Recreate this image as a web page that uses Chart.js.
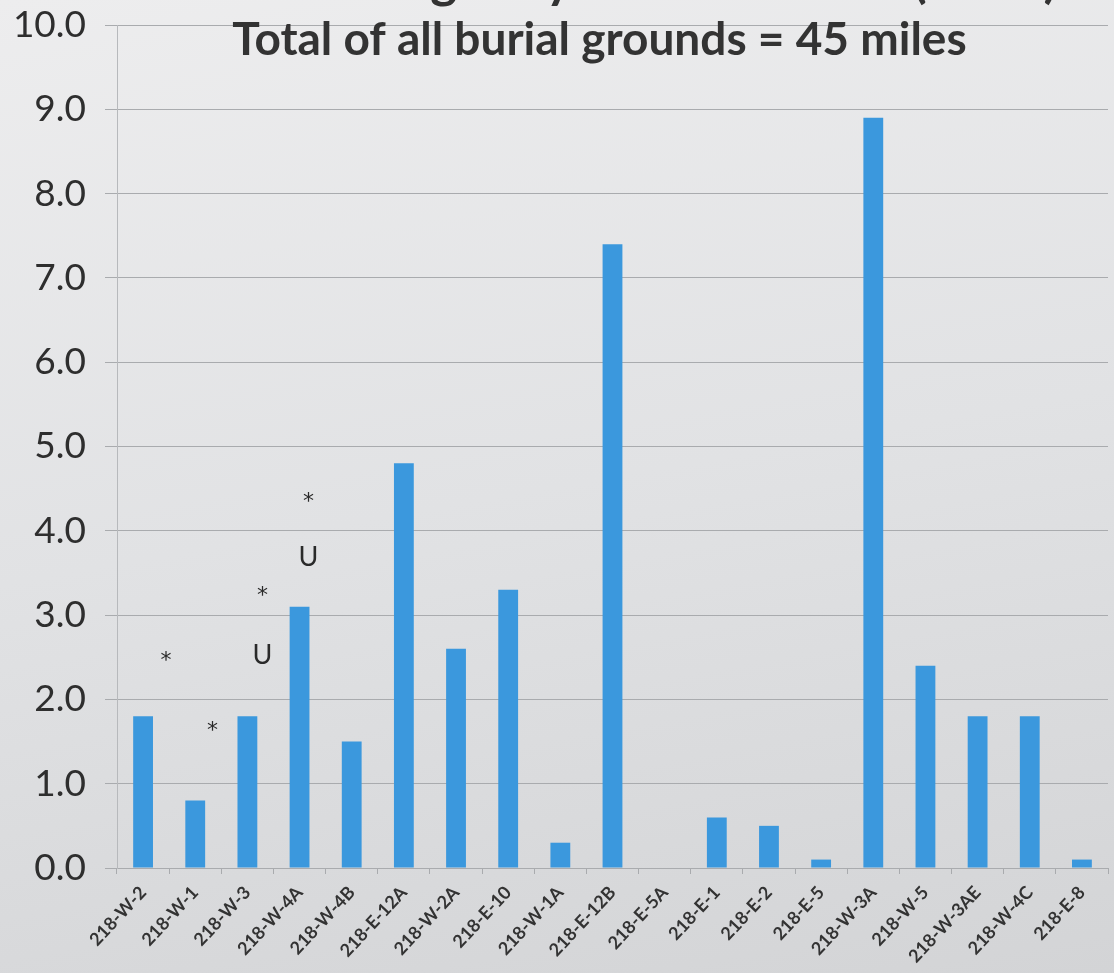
<!DOCTYPE html>
<html>
<head>
<meta charset="utf-8">
<script src="https://cdn.jsdelivr.net/npm/chart.js@4"></script>
<style>
  html, body { margin: 0; padding: 0; width: 1114px; height: 973px; overflow: hidden; }
  body { background: linear-gradient(170deg, #ededee 0%, #e1e2e4 50%, #d3d4d6 100%); }
  #wrap { position: relative; width: 1114px; height: 973px; }
</style>
</head>
<body>
<div id="wrap"><canvas id="c" width="1114" height="973"></canvas></div>
<script>
// ---- data ----
const categories = ["218-W-2","218-W-1","218-W-3","218-W-4A","218-W-4B","218-E-12A","218-W-2A","218-E-10","218-W-1A","218-E-12B","218-E-5A","218-E-1","218-E-2","218-E-5","218-W-3A","218-W-5","218-W-3AE","218-W-4C","218-E-8"];
const lengthMiles = [1.8,0.8,1.8,3.1,1.5,4.8,2.6,3.3,0.3,7.4,0,0.6,0.5,0.1,8.9,2.4,1.8,1.8,0.1];
const titleLines = ["Trench Length by Burial Ground (miles)", "Total of all burial grounds = 45 miles"];
// markers: category index, offset within category (fraction), value height, text
const markerCats = [0, 1, 2, 2, 3, 3];
const markerOffsets = [0.44, 0.33, 0.29, 0.29, 0.17, 0.17];
const markerValues = [2.45, 1.62, 2.52, 3.22, 3.68, 4.34];
const markerTexts = ["*", "*", "U", "*", "U", "*"];
const yMin = 0, yMax = 10, yStep = 1;

const annotate = {
  id: 'annotate',
  afterDatasetsDraw(chart) {
    const ctx = chart.ctx, x = chart.scales.x, y = chart.scales.y;
    const step = x.getPixelForValue(1) - x.getPixelForValue(0);
    ctx.save();
    ctx.fillStyle = '#2a2a2a';
    ctx.textAlign = 'center';
    ctx.textBaseline = 'middle';
    for (let i = 0; i < markerTexts.length; i++) {
      const px = x.getPixelForValue(markerCats[i]) + markerOffsets[i] * step;
      const py = y.getPixelForValue(markerValues[i]);
      ctx.font = markerTexts[i] === '*' ? '22px "DejaVu Sans"' : '27px Lato';
      ctx.fillText(markerTexts[i], px, py);
    }
    // titles
    const ca = chart.chartArea;
    const cx = (ca.left + ca.right) / 2;
    ctx.fillStyle = '#333333';
    ctx.textBaseline = 'alphabetic';
    ctx.font = 'bold 51px Lato';
    ctx.fillText(titleLines[0], cx + 8, ca.top - 28);
    ctx.font = 'bold 46px Lato';
    ctx.fillText(titleLines[1], cx - 13, ca.top + 30);
    ctx.restore();
  }
};

new Chart(document.getElementById('c'), {
  type: 'bar',
  data: {
    labels: categories,
    datasets: [{
      data: lengthMiles,
      backgroundColor: '#3b98dd',
      barPercentage: 0.38,
      categoryPercentage: 1.0
    }]
  },
  options: {
    responsive: false,
    animation: false,
    layout: { padding: { top: 25, right: 6, left: 0, bottom: 0 } },
    plugins: { legend: { display: false }, tooltip: { enabled: false }, title: { display: false } },
    scales: {
      x: {
        offset: true,
        grid: { display: true, drawOnChartArea: false, drawTicks: true, tickLength: 6, color: '#a9abae', offset: true },
        border: { display: true, color: '#a9abae' },
        ticks: {
          maxRotation: 47, minRotation: 47, autoSkip: false, padding: 8,
          color: '#333333', font: { family: 'Lato', size: 18, weight: 'bold' }
        },
        afterFit(scale) { scale.height = 105; scale.paddingLeft = 0; scale.paddingRight = 0; }
      },
      y: {
        min: yMin, max: yMax,
        grid: { color: '#a9abae', lineWidth: 1, drawTicks: true, tickLength: 12 },
        border: { display: true, color: '#b7b9bc' },
        ticks: {
          stepSize: yStep, padding: 19,
          color: '#2e2e2e', font: { family: 'Lato', size: 37 },
          callback: v => Number(v).toFixed(1)
        },
        afterFit(scale) { scale.width = 117; scale.paddingTop = 0; scale.paddingBottom = 0; }
      }
    }
  },
  plugins: [annotate]
});
</script>
</body>
</html>
